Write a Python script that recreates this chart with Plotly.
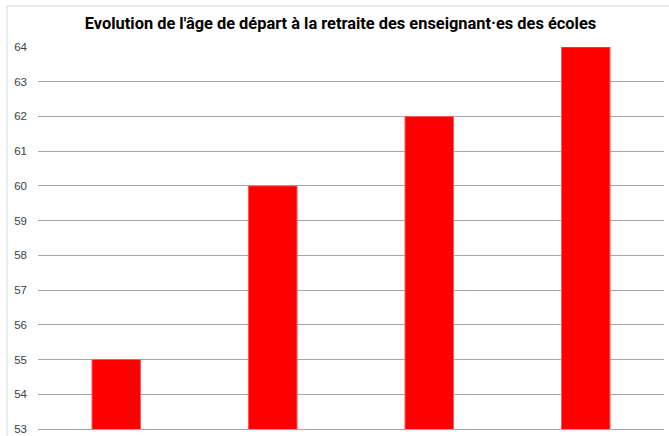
import plotly.graph_objects as go

categories = ["1", "2", "3", "4"]
ages = [55, 60, 62, 64]
y_ticks = list(range(53, 65))

W, H = 669, 436
L, R, T, B = 38, 5, 47, 7
pw, ph = W - L - R, H - T - B

fig = go.Figure(go.Bar(
    x=categories, y=ages, width=0.31,
    marker=dict(color="#ff0000", line=dict(color="#ff5a5a", width=1)),
))

fig.update_layout(
    width=W, height=H,
    margin=dict(l=L, r=R, t=T, b=B),
    plot_bgcolor="white", paper_bgcolor="white",
    showlegend=False,
    title=dict(text="<b>Evolution de l'âge de départ à la retraite des enseignant·es des écoles</b>",
               x=340.5 / W, xanchor="center", y=1 - 23 / H, yanchor="middle",
               font=dict(family="Roboto, sans-serif", size=16.4, color="#000000")),
    xaxis=dict(showticklabels=False, ticks="", showgrid=False, zeroline=False,
               showline=True, linecolor="#a6a6a6", linewidth=1, automargin=False),
    yaxis=dict(range=[53, 64], tickvals=y_ticks, showgrid=True, gridcolor="#a6a6a6",
               gridwidth=1, zeroline=False, showline=False, ticks="",
               ticklabelstandoff=10, ticklabeloverflow="allow", automargin=False,
               tickfont=dict(family="Liberation Sans, sans-serif", size=11.5, color="#404040")),
)

# chart-area border (left and top)
x_left = (7 - L) / pw
y_top = (H - B - 6) / ph
fig.add_shape(type="line", xref="paper", yref="paper", x0=x_left, x1=x_left, y0=-0.1, y1=y_top,
              line=dict(color="#d9d9d9", width=1))
fig.add_shape(type="line", xref="paper", yref="paper", x0=x_left, x1=1.1, y0=y_top, y1=y_top,
              line=dict(color="#d9d9d9", width=1))

fig.write_html("out.html", config={"displayModeBar": False},
               post_script="document.body.style.margin='0';document.body.style.overflow='hidden';")
